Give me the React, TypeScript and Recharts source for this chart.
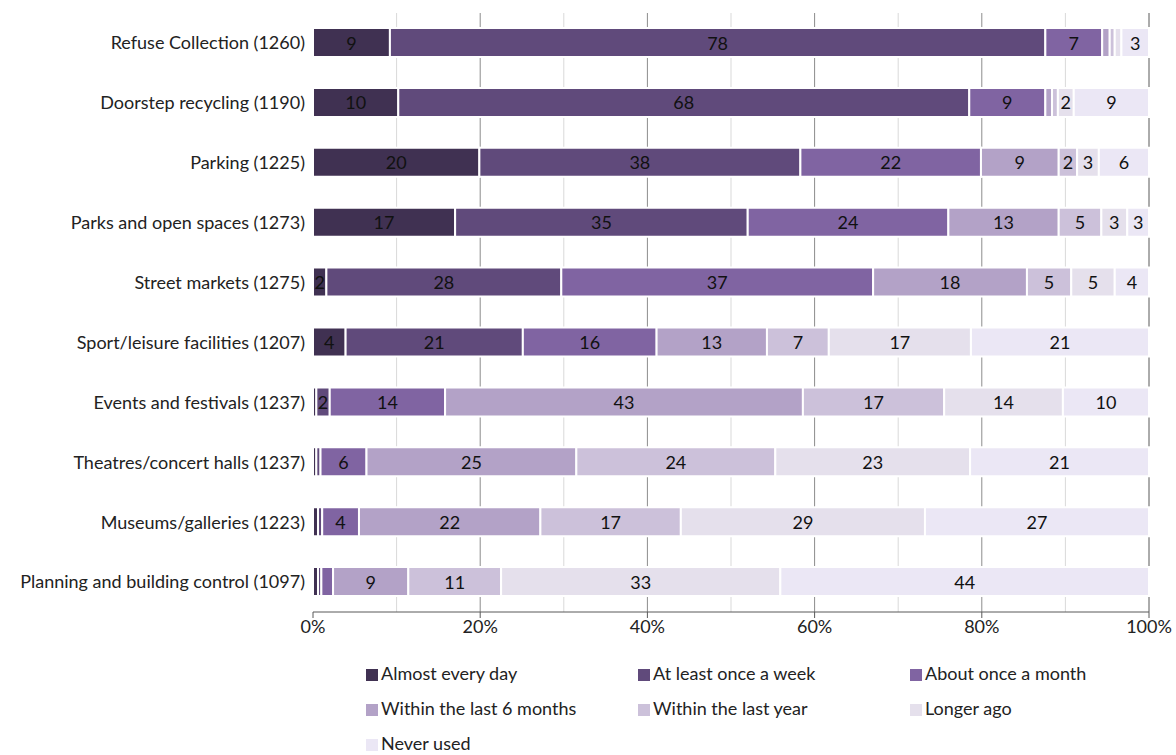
import React from 'react';
import {
  BarChart,
  Bar,
  XAxis,
  YAxis,
  CartesianGrid,
  LabelList,
} from 'recharts';

const categories = [
  'Refuse Collection (1260)',
  'Doorstep recycling (1190)',
  'Parking (1225)',
  'Parks and open spaces (1273)',
  'Street markets (1275)',
  'Sport/leisure facilities (1207)',
  'Events and festivals (1237)',
  'Theatres/concert halls (1237)',
  'Museums/galleries (1223)',
  'Planning and building control (1097)',
];

const almostEveryDay = [9.2, 10.2, 19.9, 17, 1.6, 3.9, 0.4, 0.4, 0.6, 0.6];
const atLeastWeekly = [78.4, 68.3, 38.4, 35, 28.1, 21.2, 1.6, 0.5, 0.5, 0.4];
const aboutMonthly = [6.8, 9.1, 21.6, 24, 37.3, 16, 13.8, 5.5, 4.4, 1.4];
const within6Months = [0.9, 0.8, 9.3, 13.2, 18.4, 13.2, 42.8, 25.1, 21.7, 9];
const withinYear = [0.6, 0.7, 2.2, 5.1, 5.3, 7.4, 16.9, 23.8, 16.8, 11.1];
const longerAgo = [0.8, 1.9, 2.6, 3.1, 5.2, 17, 14.2, 23.3, 29.2, 33.4];
const neverUsed = [3.3, 9, 6, 2.6, 4.1, 21.3, 10.3, 21.4, 26.8, 44.1];

const xTicks = [0, 20, 40, 60, 80, 100];
const majorGrid = [20, 40, 60, 80];
const minorGrid = [10, 30, 50, 70, 90];
const rowEdges = [0, 1, 2, 3, 4, 5, 6, 7, 8, 9, 10];

const series = [
  { key: 'almost', name: 'Almost every day', color: '#403152', values: almostEveryDay },
  { key: 'week', name: 'At least once a week', color: '#604a7b', values: atLeastWeekly },
  { key: 'month', name: 'About once a month', color: '#8064a2', values: aboutMonthly },
  { key: 'six', name: 'Within the last 6 months', color: '#b3a2c7', values: within6Months },
  { key: 'year', name: 'Within the last year', color: '#ccc1da', values: withinYear },
  { key: 'longer', name: 'Longer ago', color: '#e5e0ec', values: longerAgo },
  { key: 'never', name: 'Never used', color: '#ebe7f5', values: neverUsed },
];

const data = categories.map((name, i) => {
  const row: Record<string, string | number> = { name };
  series.forEach(s => {
    row[s.key] = s.values[i];
  });
  return row;
});

const FONT = 'Lato, "Open Sans", sans-serif';

const renderLabel = (props: any) => {
  const v = Number(props.value);
  if (!(v >= 1.5)) return null;
  const x = Number(props.x) + Number(props.width) / 2;
  const y = Number(props.y) + Number(props.height) / 2;
  return (
    <text
      x={x}
      y={y}
      textAnchor="middle"
      dominantBaseline="central"
      fontSize={18}
      fontFamily={FONT}
      fill="#111"
    >
      {Math.round(v)}
    </text>
  );
};

export default function App() {
  return (
    <div style={{ position: 'absolute', left: 0, top: 0, width: 1176, height: 755, background: '#fff', fontFamily: FONT }}>
      <BarChart
        width={1176}
        height={650}
        data={data}
        layout="vertical"
        margin={{ top: 13, right: 27, bottom: 0, left: 0 }}
        barCategoryGap={0}
      >
        <CartesianGrid horizontal={false} stroke="#d9d9d9" verticalValues={minorGrid} />
        <CartesianGrid horizontal={false} stroke="#8c8c8c" verticalValues={majorGrid} />
        <CartesianGrid horizontal={false} stroke="#595959" verticalValues={[100]} />
        <XAxis
          type="number"
          domain={[0, 100]}
          ticks={xTicks}
          tickFormatter={v => `${v}%`}
          height={38}
          axisLine={{ stroke: '#595959' }}
          tickLine={{ stroke: '#595959' }}
          tickSize={6}
          tick={{ fill: '#222', fontSize: 18, fontFamily: FONT }}
          interval={0}
        />
        <YAxis
          yAxisId="edges"
          type="number"
          domain={[0, 10]}
          ticks={rowEdges}
          width={0}
          tick={false}
          tickSize={6}
          axisLine={{ stroke: '#595959' }}
          tickLine={{ stroke: '#595959' }}
          interval={0}
        />
        <YAxis
          yAxisId="cat"
          type="category"
          dataKey="name"
          width={313}
          axisLine={false}
          tickLine={false}
          tickSize={6}
          tickMargin={2}
          interval={0}
          tick={{ fill: '#222', fontSize: 18, fontFamily: FONT }}
        />
        {series.map(s => (
          <Bar
            key={s.key}
            yAxisId="cat"
            dataKey={s.key}
            name={s.name}
            stackId="a"
            fill={s.color}
            stroke="#fff"
            strokeWidth={2}
            barSize={29}
            isAnimationActive={false}
          >
            <LabelList dataKey={s.key} content={renderLabel} />
          </Bar>
        ))}
      </BarChart>

      {/* legend — three columns like the source */}
      <div style={{ position: 'absolute', left: 366, top: 660, width: 800, display: 'grid', gridTemplateColumns: '272px 272px 256px', rowGap: 9 }}>
        {series.map(s => (
          <div key={s.key} style={{ display: 'flex', alignItems: 'center', height: 26, fontSize: 18, lineHeight: '22px', color: '#222' }}>
            <span style={{ display: 'inline-block', width: 12, height: 12, background: s.color, marginRight: 3, marginTop: 3 }} />
            <span>{s.name}</span>
          </div>
        ))}
      </div>
    </div>
  );
}
